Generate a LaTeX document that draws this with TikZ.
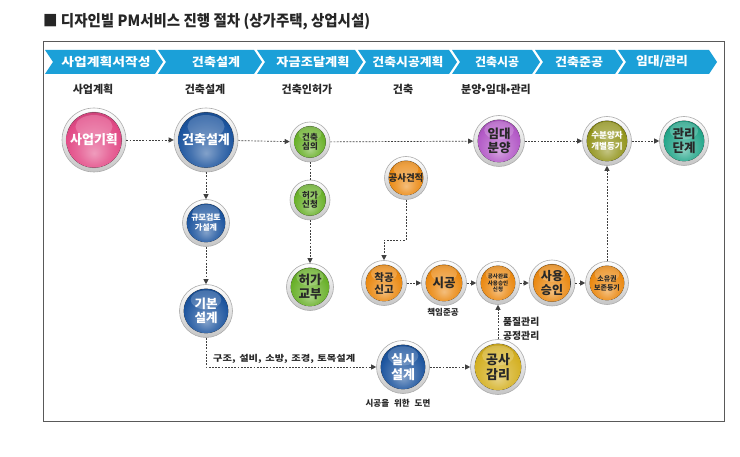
\documentclass[tikz,border=0pt]{standalone}
\usepackage{fontspec}
\setmainfont{Noto Sans CJK KR}
\newfontfamily\heavy{Noto Sans CJK KR Black}
\usetikzlibrary{arrows.meta}
\definecolor{barblue}{RGB}{27,160,216}
\definecolor{pinkc}{RGB}{226,74,134}
\definecolor{bluec}{RGB}{28,84,158}
\definecolor{greenc}{RGB}{104,176,40}
\definecolor{purplec}{RGB}{178,88,198}
\definecolor{olivec}{RGB}{146,148,28}
\definecolor{tealc}{RGB}{36,166,138}
\definecolor{orangec}{RGB}{234,136,16}
\definecolor{goldc}{RGB}{212,176,34}
\definecolor{txtdark}{RGB}{40,40,40}
\colorlet{ballc}{red}
\pgfdeclareradialshading[ballc]{glossy}{\pgfpoint{0bp}{-12bp}}{color(0bp)=(ballc!55!white); color(14bp)=(ballc!82!white); color(26bp)=(ballc); color(38bp)=(ballc!72!black); color(50bp)=(ballc!62!black)}
\newcommand{\fitw}[2]{\resizebox{#1}{\height}{#2}}
\tikzset{
  x=1pt, y=-1pt,
  ball/.style n args={3}{circle, inner sep=0pt, minimum size={2*#2 pt}, draw=gray!65, line width=0.6pt,
    top color=white, bottom color=gray!45, text=#3, align=center,
    path picture={\colorlet{ballc}{#1}
      \fill[gray!55] (path picture bounding box.center) circle[radius={#2pt-3.9pt}];
      \fill[shading=glossy] (path picture bounding box.center) circle[radius={#2pt-4.3pt}];
      \fill[white, fill opacity=0.2] ([yshift={0.42*#2pt}]path picture bounding box.center) ellipse[x radius={0.58*#2pt}, y radius={0.36*#2pt}];
    }},
  fs/.style={font=\heavy\fontsize{#1}{#1}\selectfont},
  conn/.style={draw=black!75, line width=0.7pt, dash pattern=on 1.8pt off 1.4pt},
  arr/.style={conn, -{Triangle[length=5pt,width=5pt]}},
  chevtxt/.style={text=white, font=\heavy\fontsize{12}{12}\selectfont},
  rowlbl/.style={text=txtdark, font=\heavy\fontsize{11}{11}\selectfont},
  lbl/.style={text=txtdark, font=\bfseries\fontsize{8.5}{11}\selectfont, inner sep=0pt},
}
\begin{document}
\begin{tikzpicture}
\useasboundingbox (0,0) rectangle (740,457);
\fill[white] (0,0) rectangle (740,457);
% title
\node[anchor=base west, inner sep=0pt, text=black!85, font=\bfseries\fontsize{15.5}{16}\selectfont] (title) at (43,27) {\fitw{327pt}{■ 디자인빌 PM서비스 진행 절차 (상가주택, 상업시설)}};
% frame
\draw[gray!70!black, line width=0.9pt] (43,41) rectangle (724,421);
% chevron bar
\foreach \L/\R in {158/262, 257/363, 358/457, 452/540, 535/623, 618/717}{
  \fill[barblue] (\L,50) -- (\R-8,50) -- (\R,62) -- (\R-8,74) -- (\L,74) -- (\L+8,62) -- cycle;
}
\fill[barblue] (45,50) -- (155,50) -- (163,62) -- (155,74) -- (45,74) -- (53,62) -- cycle;
\node[chevtxt] (c1) at (106,62) {\fitw{89pt}{사업계획서작성}};
\node[chevtxt] (c2) at (216,62) {\fitw{48pt}{건축설계}};
\node[chevtxt] (c3) at (313,62) {\fitw{73pt}{자금조달계획}};
\node[chevtxt] (c4) at (408,62) {\fitw{71pt}{건축시공계획}};
\node[chevtxt] (c5) at (497,62) {\fitw{44pt}{건축시공}};
\node[chevtxt] (c6) at (579,62) {\fitw{48pt}{건축준공}};
\node[chevtxt] (c7) at (662,62) {\fitw{52pt}{임대/관리}};
% row labels
\node[rowlbl] (r1) at (93,89) {사업계획};
\node[rowlbl] (r2) at (205,89) {건축설계};
\node[rowlbl] (r3) at (307,89) {건축인허가};
\node[rowlbl] (r4) at (403,89) {건축};
\node[rowlbl] (r5) at (496,89) {분양•임대•관리};
% nodes
\node[ball={pinkc}{32}{white}, fs=13] (sa) at (94,140) {사업기획};
\node[ball={bluec}{32}{white}, fs=13] (ds) at (206,140) {건축설계};
\node[ball={greenc}{20}{txtdark}, fs=8.5] (sim) at (310,142) {건축\\[1pt]심의};
\node[ball={greenc}{20}{txtdark}, fs=8.5] (hs) at (310,200) {허가\\[1pt]신청};
\node[ball={greenc}{23.5}{txtdark}, fs=12.5] (hg) at (310,287) {허가\\[2pt]교부};
\node[ball={bluec}{23.5}{white}, fs=8] (gm) at (206,223) {규모검토\\[2pt]가설계};
\node[ball={bluec}{26.5}{white}, fs=12.5] (gb) at (206,311) {기본\\[2pt]설계};
\node[ball={bluec}{26.5}{white}, fs=13] (ss) at (403,367) {실시\\[2pt]설계};
\node[ball={goldc}{27.5}{txtdark}, fs=13] (gg) at (498,367) {공사\\[2pt]감리};
\node[ball={orangec}{21.5}{txtdark}, fs=9.5] (gj) at (406,178) {공사견적};
\node[ball={orangec}{22.5}{txtdark}, fs=10.5] (cg) at (384,283) {착공\\[1.5pt]신고};
\node[ball={orangec}{22.5}{txtdark}, fs=12.5] (sg) at (444,283) {시공};
\node[ball={orangec}{21.5}{txtdark}, fs=5.5] (wr) at (498,283) {공사완료\\[1pt]사용승인\\[1pt]신청};
\node[ball={orangec}{23}{txtdark}, fs=12] (sy) at (552,283) {사용\\[2pt]승인};
\node[ball={orangec}{21.5}{txtdark}, fs=7] (so) at (607,283) {소유권\\[2pt]보존등기};
\node[ball={purplec}{25.5}{txtdark}, fs=12.5] (im) at (499,141) {임대\\[2pt]분양};
\node[ball={olivec}{24.5}{white}, fs=8.5] (su) at (607,141) {수분양자\\[2pt]개별등기};
\node[ball={tealc}{24.5}{txtdark}, fs=12.5] (gl) at (684,141) {관리\\[2pt]단계};
% labels
\node[lbl] (l1) at (443,312) {책임준공};
\node[lbl, anchor=west, align=left, font=\bfseries\fontsize{9.8}{14}\selectfont] (l2) at (503,329) {품질관리\\공정관리};
\node[lbl] (l3) at (398,403) {시공을\hspace{5pt}위한\hspace{5pt}도면};
\node[lbl, anchor=base west] (l4) at (213,362) {\fitw{142pt}{구조,\hspace{3pt}설비,\hspace{3pt}소방,\hspace{3pt}조경,\hspace{3pt}토목설계}};
% connectors
\coordinate (bend) at (406,240);
\draw[arr] (sa) -- (ds);
\draw[arr] (ds) -- (sim);
\draw[arr] (sim) -- (im);
\draw[arr] (im) -- (su);
\draw[arr] (su) -- (gl);
\draw[arr] (ds) -- (gm);
\draw[arr] (gm) -- (gb);
\draw[arr] (gb.south) |- (ss.west);
\draw[arr] (ss) -- (gg);
\draw[arr] (gg) -- (wr);
\draw[conn] (sim) -- (hs);
\draw[arr] (hs) -- (hg);
\draw[arr] (gj.south) -- (bend) -| (cg.north);
\draw[arr] (cg) -- (sg);
\draw[arr] (sg) -- (wr);
\draw[arr] (wr) -- (sy);
\draw[arr] (sy) -- (so);
\draw[arr] (so) -- (su);
\end{tikzpicture}
\end{document}
